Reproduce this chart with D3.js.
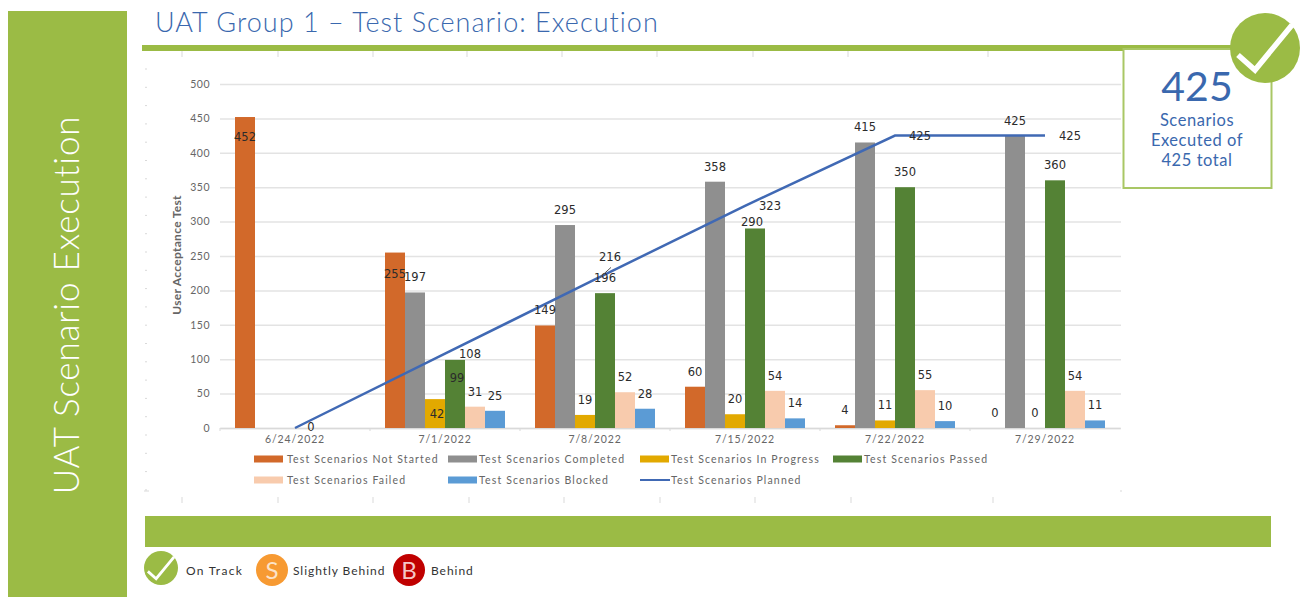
<!DOCTYPE html>
<html>
<head>
<meta charset="utf-8">
<title>UAT Scenario Execution</title>
<script src="https://cdn.jsdelivr.net/npm/d3@7"></script>
<style>
    html, body { margin: 0; padding: 0; background: #fff; overflow: hidden; }
    text { font-family: Lato, "Open Sans", sans-serif; }
    .data_label { font-family: "DejaVu Sans", sans-serif; font-size: 11.5px; fill: #2b2b2b; text-anchor: middle; dominant-baseline: central; }
</style>
</head>
<body>
<svg id="drawing_region"></svg>
<script>
const dates = ["6/24/2022", "7/1/2022", "7/8/2022", "7/15/2022", "7/22/2022", "7/29/2022"];
const y_ticks = [0, 50, 100, 150, 200, 250, 300, 350, 400, 450, 500];

const not_started = [452, 255, 149, 60, 4, 0];
const completed = [null, 197, 295, 358, 415, 425];
const in_progress = [null, 42, 19, 20, 11, 0];
const passed = [null, 99, 196, 290, 350, 360];
const failed = [null, 31, 52, 54, 55, 54];
const blocked = [null, 25, 28, 14, 10, 11];
const planned = [0, 108, 216, 323, 425, 425];

const bar_series = [
    { name: "Test Scenarios Not Started", values: not_started, color: "#D2692A" },
    { name: "Test Scenarios Completed", values: completed, color: "#8F8F8F" },
    { name: "Test Scenarios In Progress", values: in_progress, color: "#E2A900" },
    { name: "Test Scenarios Passed", values: passed, color: "#548235" },
    { name: "Test Scenarios Failed", values: failed, color: "#F8CBAD" },
    { name: "Test Scenarios Blocked", values: blocked, color: "#5B9BD5" }
];
const line_name = "Test Scenarios Planned";

// labels the original chart had dragged off their default spot: "series,date index" -> [dx, dy]
const bar_label_nudge = {
    "0,0": [0, 35], "0,1": [0, 36],
    "2,1": [2, 30],
    "3,1": [2, 33], "3,3": [-3, 9]
};
const line_label_nudge = { 0: [16, -1], 2: [15, -22] };

const green = "#9BBB45";
const blue_text = "#3A68AE";
const grey_text = "#666";

const svg = d3.select("#drawing_region")
    .attr("width", 1302)
    .attr("height", 597);

// page furniture
svg.append("rect").attr("x", 8).attr("y", 11).attr("width", 119).attr("height", 586).attr("fill", green);
svg.append("text")
    .attr("transform", "translate(79,305) rotate(-90)")
    .attr("text-anchor", "middle")
    .attr("font-size", 35)
    .attr("font-weight", 300)
    .attr("letter-spacing", 0.8)
    .attr("fill", "#fff")
    .text("UAT Scenario Execution");

svg.append("text")
    .attr("x", 155).attr("y", 32)
    .attr("font-size", 27)
    .attr("font-weight", 300)
    .attr("letter-spacing", 1.02)
    .attr("fill", blue_text)
    .text("UAT Group 1 – Test Scenario: Execution");

svg.append("rect").attr("x", 142).attr("y", 45).attr("width", 1100).attr("height", 6).attr("fill", green);
svg.append("rect").attr("x", 145).attr("y", 516).attr("width", 1126).attr("height", 31).attr("fill", green);

// faint tick marks around the pasted chart area
const frame = svg.append("g").attr("stroke", "#d9d9d9").attr("stroke-width", 1);
const frame_x_top = [182, 278, 373, 467, 562, 657, 753, 848, 988];
const frame_x_bottom = [182, 278, 373, 469, 564, 660, 755, 851, 993];
frame.selectAll(".top").data(frame_x_top).join("line")
    .attr("x1", d => d).attr("x2", d => d).attr("y1", 51).attr("y2", 57);
frame.selectAll(".bottom").data(frame_x_bottom).join("line")
    .attr("x1", d => d).attr("x2", d => d).attr("y1", 497).attr("y2", 503);
frame.selectAll(".left").data(d3.range(69, 490, 18.3)).join("line")
    .attr("x1", 145).attr("x2", 147).attr("y1", d => d).attr("y2", d => d);
frame.append("line").attr("x1", 144).attr("x2", 149).attr("y1", 491).attr("y2", 491);
frame.append("line").attr("x1", 1120).attr("x2", 1122).attr("y1", 491).attr("y2", 491);

// chart
const xscale = d3.scaleBand().domain(dates).range([220, 1120]);
const inner = d3.scaleBand().domain(d3.range(bar_series.length)).range([15, 135]);
const yscale = d3.scaleLinear().domain([0, 500]).range([428, 84]);

const yaxis_group = svg.append("g")
    .attr("transform", "translate(220,0)")
    .call(d3.axisLeft(yscale).tickValues(y_ticks).tickSize(-901).tickPadding(10));
yaxis_group.select(".domain").remove();
yaxis_group.selectAll("line").attr("stroke", "#e3e3e3").attr("stroke-width", 1.5);
yaxis_group.selectAll("text")
    .attr("font-size", 10.5)
    .attr("letter-spacing", 0.5)
    .attr("fill", grey_text)
    .style("font-family", "Lato");

const xaxis_group = svg.append("g")
    .attr("transform", "translate(0,428)")
    .call(d3.axisBottom(xscale).tickSize(0).tickPadding(8));
xaxis_group.select(".domain").attr("stroke", "#d9d9d9").attr("stroke-width", 1.5);
xaxis_group.selectAll("text")
    .attr("font-size", 10.5)
    .attr("letter-spacing", 0.9)
    .attr("fill", grey_text)
    .style("font-family", "Lato");
xaxis_group.selectAll(".sep").data(dates).join("line")
    .attr("class", "sep")
    .attr("x1", d => xscale(d)).attr("x2", d => xscale(d))
    .attr("y1", 0).attr("y2", 3)
    .attr("stroke", "#d9d9d9");

svg.append("text")
    .attr("transform", "translate(181,255) rotate(-90)")
    .attr("text-anchor", "middle")
    .attr("font-size", 12)
    .attr("font-weight", 700)
    .attr("letter-spacing", 0.3)
    .attr("fill", grey_text)
    .text("User Acceptance Test");

const bar_groups = svg.selectAll(".series")
    .data(bar_series)
    .join("g")
    .attr("class", "series")
    .attr("fill", d => d.color);

bar_groups.selectAll("rect")
    .data((d, i) => d.values.map((v, j) => ({ v, i, date: dates[j] })).filter(d => d.v !== null))
    .join("rect")
    .attr("x", d => xscale(d.date) + inner(d.i))
    .attr("y", d => yscale(d.v))
    .attr("width", inner.bandwidth())
    .attr("height", d => yscale(0) - yscale(d.v));

const line = d3.line()
    .x((d, i) => xscale(dates[i]) + xscale.bandwidth() / 2)
    .y(d => yscale(d));

svg.append("path")
    .attr("d", line(planned))
    .attr("fill", "none")
    .attr("stroke", "#4069B4")
    .attr("stroke-width", 2.5);

// data labels sit on top of everything
bar_series.forEach((s, i) => {
    s.values.forEach((v, j) => {
        if (v === null) return;
        const nudge = bar_label_nudge[i + "," + j] || [0, 0];
        svg.append("text")
            .attr("class", "data_label")
            .attr("x", xscale(dates[j]) + inner(i) + inner.bandwidth() / 2 + nudge[0])
            .attr("y", yscale(v) - 15 + nudge[1])
            .text(v);
    });
});

planned.forEach((v, j) => {
    const nudge = line_label_nudge[j] || [25, 0];
    svg.append("text")
        .attr("class", "data_label")
        .attr("x", xscale(dates[j]) + xscale.bandwidth() / 2 + nudge[0])
        .attr("y", yscale(v) + nudge[1])
        .text(v);
});

// leader line of the 216 label
svg.append("line")
    .attr("x1", xscale(dates[2]) + xscale.bandwidth() / 2 + 16)
    .attr("y1", yscale(planned[2]) - 12)
    .attr("x2", xscale(dates[2]) + xscale.bandwidth() / 2 + 5)
    .attr("y2", yscale(planned[2]) - 2)
    .attr("stroke", "#555");

// chart legend
const legend_x = [254, 448, 640, 833];
const legend_y = [459, 480];
const legend_items = bar_series.map(s => ({ name: s.name, color: s.color })).concat([{ name: line_name, color: "#4069B4", is_line: true }]);

const legend = svg.selectAll(".legend_item")
    .data(legend_items)
    .join("g")
    .attr("class", "legend_item")
    .attr("transform", (d, i) => `translate(${legend_x[i < 4 ? i : i - 4]},${legend_y[i < 4 ? 0 : 1]})`);

legend.append("rect")
    .attr("x", 0)
    .attr("y", d => d.is_line ? -1 : -3.5)
    .attr("width", d => d.is_line ? 30 : 29)
    .attr("height", d => d.is_line ? 2 : 7)
    .attr("fill", d => d.color);

legend.append("text")
    .attr("x", (d, i) => i === 0 || i === 4 ? 33 : 31)
    .attr("y", 4)
    .attr("font-size", 10.5)
    .attr("letter-spacing", 1.15)
    .attr("fill", grey_text)
    .text(d => d.name);

// KPI box
svg.append("rect")
    .attr("x", 1123.5).attr("y", 49).attr("width", 148).attr("height", 139)
    .attr("fill", "#fff").attr("stroke", "#A9C765").attr("stroke-width", 2);

svg.append("text").attr("x", 1197).attr("y", 101).attr("text-anchor", "middle")
    .attr("font-size", 41).attr("font-weight", 400).attr("fill", blue_text).text("425");

const kpi_lines = ["Scenarios", "Executed of", "425 total"];
svg.selectAll(".kpi_line")
    .data(kpi_lines)
    .join("text")
    .attr("class", "kpi_line")
    .attr("x", 1197)
    .attr("y", (d, i) => 126 + i * 20)
    .attr("text-anchor", "middle")
    .attr("font-size", 16.5)
    .attr("font-weight", 400)
    .attr("letter-spacing", 0.55)
    .attr("fill", blue_text)
    .text(d => d);

function check_icon(cx, cy, r, stroke_w) {
    svg.append("circle").attr("cx", cx).attr("cy", cy).attr("r", r).attr("fill", green);
    const k = r / 35;
    const pts = [[-27, 7], [-10, 22], [27, -23]].map(p => [cx + p[0] * k, cy + p[1] * k]);
    svg.append("path")
        .attr("d", d3.line()(pts))
        .attr("fill", "none")
        .attr("stroke", "#fff")
        .attr("stroke-width", stroke_w);
}

check_icon(1265, 48, 35, 5.5);

// status key
check_icon(161, 568, 17, 2.8);
svg.append("text").attr("x", 186).attr("y", 575).attr("font-size", 12).attr("letter-spacing", 1.3).attr("fill", "#333").text("On Track");

const status_key = [
    { letter: "S", label: "Slightly Behind", cx: 272, tx: 293, color: "#F79A32", letter_color: "#FCE3C8" },
    { letter: "B", label: "Behind", cx: 409, tx: 431, color: "#C00000", letter_color: "#F4C6C6" }
];
status_key.forEach(d => {
    svg.append("circle").attr("cx", d.cx).attr("cy", 570).attr("r", 16).attr("fill", d.color);
    svg.append("text").attr("x", d.cx).attr("y", 579).attr("text-anchor", "middle")
        .attr("font-size", 24).attr("font-weight", 400).attr("fill", d.letter_color).text(d.letter);
    svg.append("text").attr("x", d.tx).attr("y", 575).attr("font-size", 12).attr("letter-spacing", 0.95).attr("fill", "#333").text(d.label);
});
</script>
</body>
</html>
